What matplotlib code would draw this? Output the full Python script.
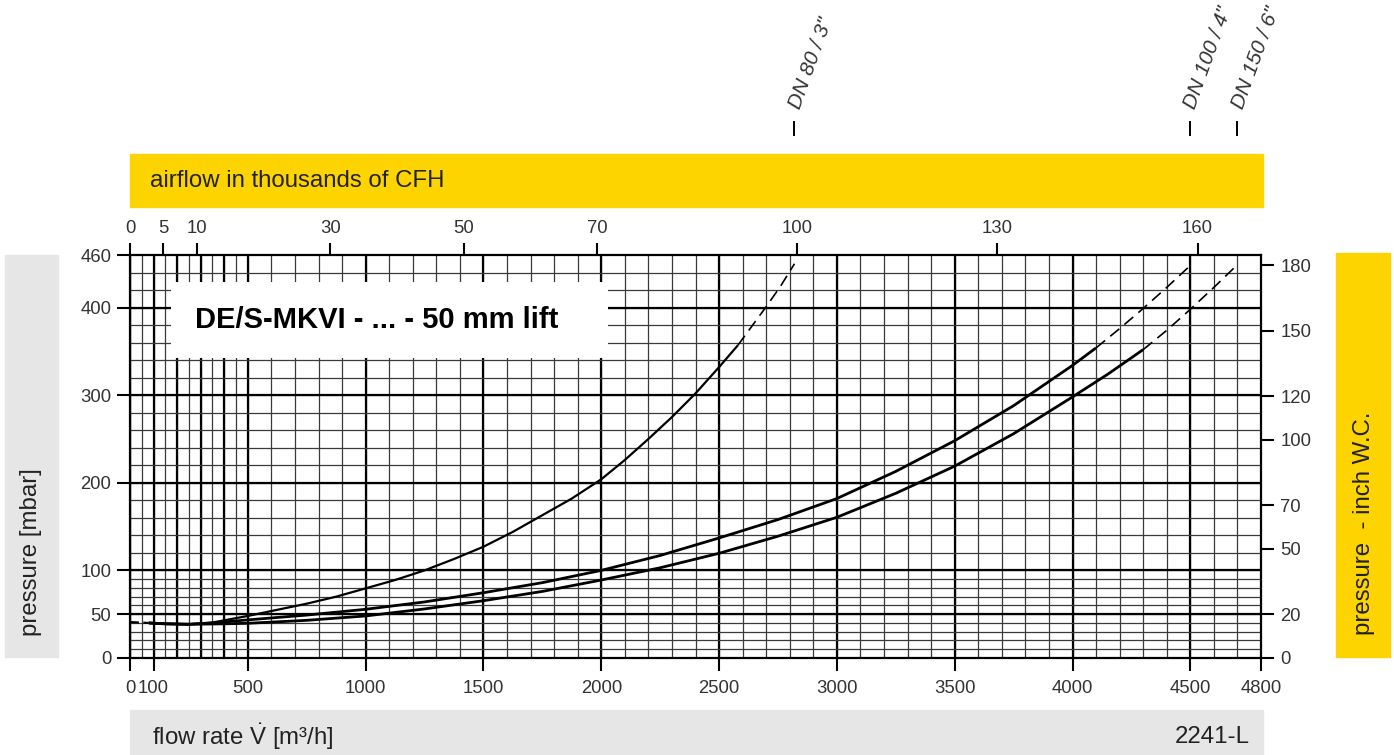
import numpy as np
import matplotlib
matplotlib.use("Agg")
import matplotlib.pyplot as plt
from matplotlib.patches import Rectangle

plt.rcParams['font.family'] = ['Liberation Sans', 'DejaVu Sans']
plt.rcParams['mathtext.fontset'] = 'custom'
plt.rcParams['mathtext.rm'] = 'Liberation Sans'
plt.rcParams['mathtext.it'] = 'Liberation Sans:italic'

# ---------------- data ----------------
start_flow = [0, 80]
start_p = [41, 40]

dn80_flow = [80, 150, 250, 350, 400, 500, 625, 750, 875, 1000, 1125, 1250, 1375, 1500,
             1625, 1750, 1875, 2000, 2100, 2200, 2300, 2400, 2500, 2580]
dn80_p = [40, 39, 38.5, 40.5, 43, 48, 55, 62, 70, 79.5, 89, 100, 113, 127,
          144, 163, 182, 204, 226, 250, 275, 302, 332, 357]
dn80_dash_flow = [2580, 2640, 2700, 2760, 2820]
dn80_dash_p = [357, 379, 401, 424, 450]

dn100_flow = [80, 150, 250, 350, 500, 750, 1000, 1250, 1500, 1750, 2000, 2250, 2500,
              2750, 3000, 3250, 3500, 3750, 4000, 4100]
dn100_p = [40, 39, 38.5, 40, 43.5, 49, 55.6, 64, 74.5, 86, 100, 117, 137,
           158, 182, 213, 248, 288, 334, 354]
dn100_dash_flow = [4100, 4200, 4300, 4400, 4500]
dn100_dash_p = [354, 376, 399, 423, 448]

dn150_flow = [80, 150, 250, 400, 500, 750, 1000, 1250, 1500, 1750, 2000, 2250, 2500,
              2750, 3000, 3250, 3500, 3750, 4000, 4150, 4300]
dn150_p = [40, 39, 38.5, 39, 39.6, 43, 48, 56, 65.4, 76, 89, 103, 119.5,
           139, 160.6, 188, 219, 256, 298, 324, 352]
dn150_dash_flow = [4300, 4400, 4500, 4600, 4700]
dn150_dash_p = [352, 374, 398, 423, 449]

dn_labels = ['DN 80 / 3"', 'DN 100 / 4"', 'DN 150 / 6"']
dn_end_flow = [dn80_dash_flow[-1], dn100_dash_flow[-1], dn150_dash_flow[-1]]

bottom_ticks = [0, 100, 500, 1000, 1500, 2000, 2500, 3000, 3500, 4000, 4500, 4800]
left_ticks = [0, 50, 100, 200, 300, 400, 460]
top_ticks = [0, 5, 10, 30, 50, 70, 100, 130, 160]
right_ticks = [0, 20, 50, 70, 100, 120, 150, 180]

title = "DE/S-MKVI - ... - 50 mm lift"
top_band_text = "airflow in thousands of CFH"
left_band_text = "pressure [mbar]"
right_band_text = "pressure  - inch W.C."
bottom_band_text = r"flow rate $\dot{\mathrm{V}}$ [m³/h]"
code_text = "2241-L"

M3H_TO_KCFH = 35.3147 / 1000.0
MBAR_PER_INWC = 2.49089

# ---------------- figure ----------------
W, H = 1394, 755
fig = plt.figure(figsize=(W / 100, H / 100), dpi=100)

def fx(x):
    return x / W

def fy(y):
    return 1 - y / H

ax_l, ax_r, ax_t, ax_b = 130, 1261, 255, 658
ax = fig.add_axes([fx(ax_l), fy(ax_b), (ax_r - ax_l) / W, (ax_b - ax_t) / H])
ax.set_xlim(0, 4800)
ax.set_ylim(0, 460)

YELLOW = '#fdd300'
GREY = '#e6e6e6'
TXT = '#222222'

# bands
fig.add_artist(Rectangle((fx(130), fy(207)), (1263 - 130) / W, (207 - 154) / H,
                         transform=fig.transFigure, color=YELLOW, zorder=0))
fig.text(fx(150), fy(181), top_band_text, fontsize=17.3, color=TXT, va='center', ha='left')

fig.add_artist(Rectangle((fx(5), fy(657)), (58 - 5) / W, (657 - 255) / H,
                         transform=fig.transFigure, color=GREY, zorder=0))
fig.text(fx(31), fy(552), left_band_text, fontsize=17.3, color=TXT, va='center', ha='center',
         rotation=90)

fig.add_artist(Rectangle((fx(1336), fy(657)), (1390 - 1336) / W, (657 - 253) / H,
                         transform=fig.transFigure, color=YELLOW, zorder=0))
fig.text(fx(1364), fy(523), right_band_text, fontsize=17.3, color=TXT, va='center', ha='center',
         rotation=90)

fig.add_artist(Rectangle((fx(130), fy(755)), (1263 - 130) / W, (755 - 710) / H,
                         transform=fig.transFigure, color=GREY, zorder=0))
fig.text(fx(152), fy(737), bottom_band_text, fontsize=17.3, color=TXT, va='center', ha='left')
fig.text(fx(1250), fy(737), code_text, fontsize=17.3, color=TXT, va='center', ha='right')

# grid
minor_x = list(np.arange(0, 500, 50)) + list(np.arange(500, 4800, 100))
major_x = [0, 100, 200, 300, 400, 500, 1000, 1500, 2000, 2500, 3000, 3500, 4000, 4500]
minor_y = list(np.arange(0, 100, 10)) + list(np.arange(100, 460, 20))
major_y = [50, 100, 200, 300, 400]
for v in minor_x:
    ax.axvline(v, color='#3a3a3a', lw=0.9, zorder=1)
for v in major_x:
    ax.axvline(v, color='black', lw=1.6, zorder=1)
for v in minor_y:
    ax.axhline(v, color='#3a3a3a', lw=0.9, zorder=1)
for v in major_y:
    ax.axhline(v, color='black', lw=1.6, zorder=1)

# title box
ax.add_patch(Rectangle((175, 342), 2030 - 175, 429 - 342, facecolor='white',
                       edgecolor='none', zorder=2))
ax.text(276, 386, title, fontsize=21, fontweight='bold', color='black',
        va='center', ha='left', zorder=3)

# curves
ax.plot(start_flow, start_p, color='black', lw=1.6, ls=(0, (4, 2)), zorder=4)
ax.plot(dn80_flow, dn80_p, color='black', lw=1.6, zorder=4, solid_capstyle='butt')
ax.plot(dn80_dash_flow, dn80_dash_p, color='black', lw=1.2, ls=(0, (7, 4)), zorder=4)
ax.plot(dn100_flow, dn100_p, color='black', lw=2.0, zorder=4, solid_capstyle='butt')
ax.plot(dn100_dash_flow, dn100_dash_p, color='black', lw=1.2, ls=(0, (7, 4)), zorder=4)
ax.plot(dn150_flow, dn150_p, color='black', lw=2.0, zorder=4, solid_capstyle='butt')
ax.plot(dn150_dash_flow, dn150_dash_p, color='black', lw=1.2, ls=(0, (7, 4)), zorder=4)

# spines and ticks
for s in ax.spines.values():
    s.set_linewidth(1.6)
    s.set_zorder(5)
ax.set_xticks(bottom_ticks)
ax.set_xticklabels([str(t) for t in bottom_ticks])
ax.set_yticks(left_ticks)
ax.set_yticklabels([str(t) for t in left_ticks])
ax.tick_params(axis='both', direction='out', length=9.5, width=1.5, labelsize=13.3,
               labelcolor='#333333', pad=4)
ax.tick_params(axis='x', pad=6)

secx = ax.secondary_xaxis('top', functions=(lambda x: x * M3H_TO_KCFH,
                                            lambda x: x / M3H_TO_KCFH))
secx.set_xticks(top_ticks)
secx.set_xticklabels([str(t) for t in top_ticks])
secx.tick_params(direction='out', length=9, width=1.5, labelsize=13.3,
                 labelcolor='#333333', pad=4)
secx.spines['top'].set_visible(False)

secy = ax.secondary_yaxis('right', functions=(lambda y: y / MBAR_PER_INWC,
                                              lambda y: y * MBAR_PER_INWC))
secy.set_yticks(right_ticks)
secy.set_yticklabels([str(t) for t in right_ticks])
secy.tick_params(direction='out', length=9, width=1.5, labelsize=13.3,
                 labelcolor='#333333', pad=5)
secy.spines['right'].set_visible(False)

# DN markers above the chart
trans = ax.get_xaxis_transform()
for lab, xf in zip(dn_labels, dn_end_flow):
    ax.plot([xf, xf], [(ax_b - 122) / (ax_b - ax_t), (ax_b - 135) / (ax_b - ax_t)],
            transform=trans, color='black', lw=1.4, clip_on=False)
    ax.text(xf, (ax_b - 108) / (ax_b - ax_t), lab, transform=trans, rotation=70,
            rotation_mode='anchor', ha='left', va='center', fontsize=15,
            fontstyle='italic', color='#333333', clip_on=False)

fig.savefig('out.png', dpi=100)
